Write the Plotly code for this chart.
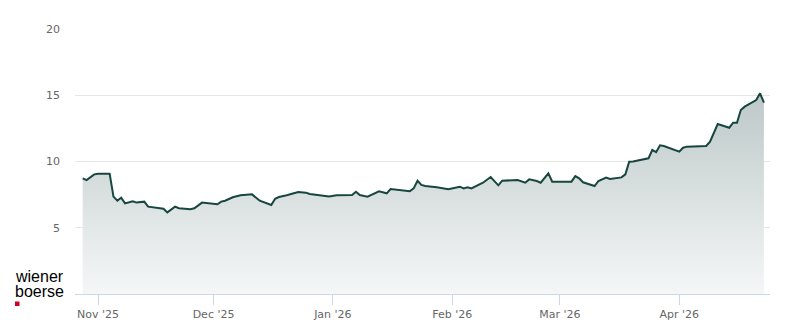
import plotly.graph_objects as go

dates = [
    "2025-10-28", "2025-10-29", "2025-10-31", "2025-11-01", "2025-11-04", "2025-11-05",
    "2025-11-06", "2025-11-07", "2025-11-08", "2025-11-10", "2025-11-11", "2025-11-13",
    "2025-11-14", "2025-11-18", "2025-11-19", "2025-11-21", "2025-11-22", "2025-11-25",
    "2025-11-26", "2025-11-28", "2025-12-02", "2025-12-03", "2025-12-04", "2025-12-06",
    "2025-12-08", "2025-12-11", "2025-12-13", "2025-12-16", "2025-12-17", "2025-12-18",
    "2025-12-20", "2025-12-23", "2025-12-25", "2025-12-26", "2025-12-31", "2026-01-02",
    "2026-01-06", "2026-01-07", "2026-01-08", "2026-01-10", "2026-01-13", "2026-01-15",
    "2026-01-16", "2026-01-21", "2026-01-22", "2026-01-23", "2026-01-24", "2026-01-25",
    "2026-01-28", "2026-01-31", "2026-02-03", "2026-02-04", "2026-02-05", "2026-02-06",
    "2026-02-09", "2026-02-11", "2026-02-13", "2026-02-14", "2026-02-18", "2026-02-20",
    "2026-02-21", "2026-02-23", "2026-02-24", "2026-02-26", "2026-02-27", "2026-03-04",
    "2026-03-05", "2026-03-06", "2026-03-07", "2026-03-10", "2026-03-11", "2026-03-13",
    "2026-03-14", "2026-03-17", "2026-03-18", "2026-03-19", "2026-03-20", "2026-03-24",
    "2026-03-25", "2026-03-26", "2026-03-27", "2026-03-28", "2026-04-01", "2026-04-02",
    "2026-04-03", "2026-04-08", "2026-04-09", "2026-04-11", "2026-04-14", "2026-04-15",
    "2026-04-16", "2026-04-17", "2026-04-18", "2026-04-21", "2026-04-22", "2026-04-23",
]
prices = [
    8.73, 8.60, 9.03, 9.08, 9.08, 7.35,
    7.04, 7.27, 6.84, 7.00, 6.90, 6.97,
    6.59, 6.44, 6.16, 6.59, 6.47, 6.39,
    6.47, 6.90, 6.77, 6.97, 7.04, 7.30,
    7.45, 7.52, 7.04, 6.72, 7.19, 7.32,
    7.45, 7.70, 7.65, 7.55, 7.35, 7.45,
    7.47, 7.72, 7.47, 7.35, 7.75, 7.60,
    7.92, 7.75, 7.97, 8.55, 8.23, 8.15,
    8.05, 7.90, 8.10, 7.97, 8.05, 7.97,
    8.40, 8.83, 8.20, 8.55, 8.60, 8.40,
    8.65, 8.53, 8.40, 9.10, 8.48, 8.48,
    8.90, 8.73, 8.43, 8.15, 8.53, 8.78,
    8.68, 8.80, 9.03, 9.98, 10.00, 10.24,
    10.87, 10.70, 11.22, 11.17, 10.74, 11.04,
    11.12, 11.17, 11.50, 12.83, 12.55, 12.93,
    12.93, 13.89, 14.14, 14.64, 15.15, 14.44,
]
month_ticks = ["2025-11-01", "2025-12-01", "2026-01-01", "2026-02-01", "2026-03-01", "2026-04-01"]
y_ticks = [5, 10, 15, 20]

W, H = 800, 324
L, R, T, B = 75, 30, 29, 30
pw, ph = W - L - R, H - T - B

def px(x):
    return (x - L) / pw

def py(y):
    return (H - B - y) / ph

fig = go.Figure()
fig.add_trace(go.Scatter(
    x=dates, y=prices, mode="lines",
    line=dict(color="#17453f", width=2),
    fill="tozeroy",
    fillgradient=dict(type="vertical", start=0, stop=15.2,
                      colorscale=[[0, "#f5f7f7"], [1, "#bdc8c8"]]),
    hoverinfo="skip",
))

fig.update_layout(
    width=W, height=H,
    margin=dict(l=L, r=R, t=T, b=B, autoexpand=False),
    paper_bgcolor="white", plot_bgcolor="white",
    showlegend=False,
    font=dict(family="DejaVu Sans", size=11, color="#666666"),
    xaxis=dict(
        range=["2025-10-26", "2026-04-24 14:00"],
        tickvals=month_ticks, tickformat="%b '%y",
        ticks="outside", ticklen=10, tickcolor="#ccd6eb", tickwidth=1,
        showline=True, linecolor="#ccd6eb", linewidth=1,
        showgrid=False, zeroline=False, automargin=False,
        tickfont=dict(size=11, color="#666666"),
    ),
    yaxis=dict(
        range=[0, 20], tickvals=y_ticks,
        showgrid=True, gridcolor="#e6e6e6", gridwidth=1,
        zeroline=False, showline=False, ticks="", automargin=False,
        ticklabelstandoff=14,
        tickfont=dict(size=11, color="#666666"),
    ),
)

for label, ymid in [("wiener", 275.5), ("boerse", 290.5)]:
    fig.add_annotation(xref="paper", yref="paper", x=px(14), y=py(ymid),
                       xanchor="left", yanchor="middle", height=14, borderpad=0,
                       text=label, showarrow=False, align="left",
                       font=dict(family="Liberation Sans", size=16, color="#000000"))
fig.add_shape(type="rect", xref="paper", yref="paper",
              x0=px(15), x1=px(19.5), y0=py(306), y1=py(301.5),
              fillcolor="#d0021b", line=dict(width=0))

fig.write_html("out.html")
